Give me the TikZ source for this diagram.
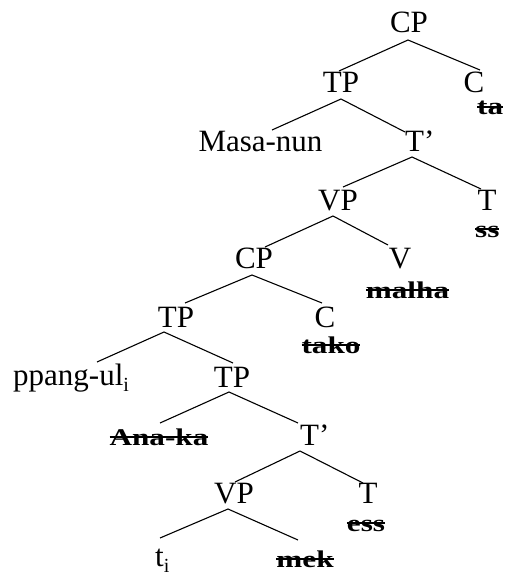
\documentclass[tikz,border=0pt]{standalone}
\usepackage{fontspec}
\usepackage{graphicx}
\setmainfont{Liberation Serif}
\newsavebox\strkbox
\newcommand\strikeword[1]{\scalebox{1.3}[1]{\fontsize{24}{28}\selectfont\bfseries\sbox\strkbox{#1}\rlap{\usebox\strkbox}\rule[0.3em]{\wd\strkbox}{0.095em}}}
\newcommand\subi{\raisebox{-6pt}{\fontsize{20}{20}\selectfont i}}
\begin{document}
\begin{tikzpicture}[x=1pt,y=-1pt,
  lbl/.style={inner sep=0pt,anchor=base,font=\fontsize{31}{37}\selectfont},
  lblw/.style={lbl,anchor=base west},
  br/.style={line width=1.1pt}]
\useasboundingbox (0,0) rectangle (504,572);
% labels
\node[lbl]  (CP0) at (409,33) {CP};
\node[lbl]  (TP1) at (341,93) {TP};
\node[lbl]  (C1)  at (474,93) {C};
\node[lblw] (ta)  at (477,115) {\strikeword{ta}};
\node[lbl]  (Masa) at (260.5,152) {Masa-nun};
\node[lblw] (Tb1) at (405,152) {T’};
\node[lbl]  (VP1) at (338,210) {VP};
\node[lbl]  (T1)  at (487,210) {T};
\node[lblw] (ss)  at (475,237) {\strikeword{ss}};
\node[lbl]  (CP2) at (254,268) {CP};
\node[lbl]  (V2)  at (400,268) {V};
\node[lbl]  (malha) at (407.5,298) {\strikeword{malha}};
\node[lbl]  (TP3) at (176,327) {TP};
\node[lbl]  (C3)  at (325,327) {C};
\node[lbl]  (tako) at (331,353) {\strikeword{tako}};
\node[lblw] (ppang) at (13,385) {ppang-ul\subi};
\node[lbl]  (TP4) at (232,387) {TP};
\node[lbl]  (Ana) at (159,445) {\strikeword{Ana-ka}};
\node[lblw] (Tb5) at (300,445) {T’};
\node[lbl]  (VP6) at (234,503) {VP};
\node[lbl]  (T6)  at (368,503) {T};
\node[lbl]  (ess) at (366,531) {\strikeword{ess}};
\node[lblw] (ti)  at (155,566) {t\subi};
\node[lbl]  (mek) at (305,567) {\strikeword{mek}};
% branch points
\coordinate (aCP0) at (408,40);  \coordinate (eTP1) at (339,71);  \coordinate (eC1) at (480,70);
\coordinate (aTP1) at (341,99);  \coordinate (eMasa) at (272,130); \coordinate (eTb1) at (405,132);
\coordinate (aTb1) at (412,157); \coordinate (eVP1) at (343,187); \coordinate (eT1) at (481,189);
\coordinate (aVP1) at (333,216); \coordinate (eCP2) at (265,247); \coordinate (eV2) at (388,245);
\coordinate (aCP2) at (252,275); \coordinate (eTP3) at (185,303); \coordinate (eC3) at (322,303);
\coordinate (aTP3) at (164,332); \coordinate (eppang) at (97,362); \coordinate (eTP4) at (233,363);
\coordinate (aTP4) at (229,392); \coordinate (eAna) at (160,423); \coordinate (eTb5) at (298,423);
\coordinate (aTb5) at (300,451); \coordinate (eVP6) at (235,482); \coordinate (eT6) at (363,483);
\coordinate (aVP6) at (228,509); \coordinate (eti) at (160,538); \coordinate (emek) at (298,540);
% branches
\draw[br] (eTP1) -- (aCP0) -- (eC1);
\draw[br] (eMasa) -- (aTP1) -- (eTb1);
\draw[br] (eVP1) -- (aTb1) -- (eT1);
\draw[br] (eCP2) -- (aVP1) -- (eV2);
\draw[br] (eTP3) -- (aCP2) -- (eC3);
\draw[br] (eppang) -- (aTP3) -- (eTP4);
\draw[br] (eAna) -- (aTP4) -- (eTb5);
\draw[br] (eVP6) -- (aTb5) -- (eT6);
\draw[br] (eti) -- (aVP6) -- (emek);
\end{tikzpicture}
\end{document}
